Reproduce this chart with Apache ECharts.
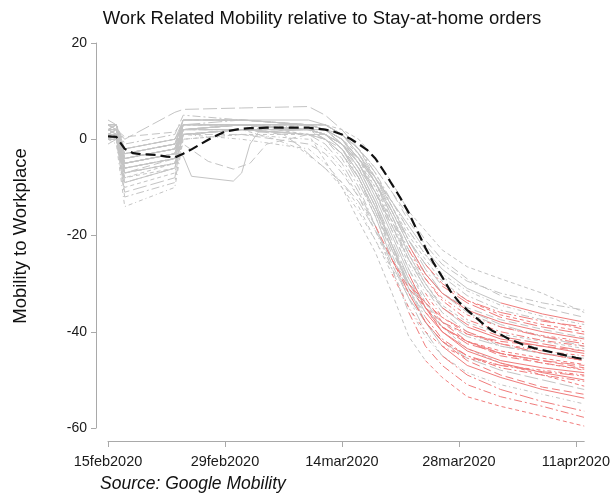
<!DOCTYPE html>
<html><head><meta charset="utf-8">
<script src="https://cdn.jsdelivr.net/npm/echarts@6/dist/echarts.min.js"></script>
<style>html,body{margin:0;padding:0;background:#fff}#c{width:613px;height:497px}</style>
</head><body><div id="c"></div>
<script>
// x positions are days since 15feb2020
const tickDays = [0, 14, 28, 42, 56];
const tickLabels = ['15feb2020', '29feb2020', '14mar2020', '28mar2020', '11apr2020'];
const knotDays = [0, 1, 2, 8, 9, 16, 24, 26, 28, 30, 32, 34, 36, 38, 40, 43, 47, 52, 57];

const s01 = [3, 2, -8, -6, 2, 3, 1, -4.5, -10, -17, -23.5, -32, -41, -46, -49.5, -53.5, -55.5, -57.5, -59.6];
const s02 = [1, 0, -12, -9, 1, 2, 2, 0, -4, -10, -18, -27, -36, -43, -47, -51, -53.5, -55.5, -57.8];
const s03 = [2, 3, -6, -4, 3, 3, 2, 1, -2, -8, -16, -25, -33, -40, -45, -49, -52, -54.5, -56.5];
const s04 = [0, -1, -14, -10, 0, 1, 0, -2, -6, -12, -19, -27, -35, -41, -45, -48.5, -51, -53, -55];
const s05 = [2, 2, -5, -3, 2, 3, 3, 2, -1, -6, -13, -22, -31, -38, -43, -47, -49.5, -52, -53.8];
const s06 = [1, 1, -7, -5, 1, 2, 1, 0, -3, -8, -15, -24, -32, -38, -42, -46, -49, -51.5, -53];
const s07 = [-1, 0, -11, -8, 2, 2, 1, -1, -5, -11, -18, -26, -33, -38, -42, -45.5, -48, -50, -52];
const s08 = [3, 2, -4, -2, 4, 4, 3, 2, 0, -4, -11, -19, -27, -34, -39, -43.5, -46.5, -49, -51.3];
const s09 = [0, 1, -9, -6, 1, 2, 2, 1, -2, -7, -14, -23, -31, -37, -41.5, -45, -47.5, -49, -50.3];
const s10 = [2, 2, -3, -1, 3, 3, 2, 0, -3, -9, -16, -25, -32, -38, -42, -45, -47, -48.3, -49.2];
const s11 = [1, 0, -6, -4, 1, 0, -2, -5, -9, -14, -21, -28, -35, -40, -43, -45.5, -47, -48, -49];
const s12 = [3, 3, -2, 0, 4, 4, 3, 2, 0, -5, -12, -20, -28, -35, -40, -43.5, -46, -47.5, -48.5];
const s13 = [1, 2, -7, -4, 2, 3, 3, 2, -1, -5, -11, -19, -27, -33, -38, -42, -45, -46.5, -47.8];
const s14 = [2, 1, -5, -3, 3, 3, 2, 1, -1, -6, -13, -21, -29, -35, -39, -42.5, -44.5, -46, -47];
const s15 = [0, 0, -10, -7, 0, 1, 1, 0, -3, -8, -15, -23, -30, -35, -39, -42, -44, -45.5, -46.8];
const s16 = [4, 3, -1, 1, 5, 4, 3, 3, 1, -3, -9, -17, -25, -31, -36, -40, -43, -44.5, -46];
const s17 = [2, 3, -4, -2, 3, 3, 2, 1, -2, -7, -14, -22, -29, -34, -38, -41, -43, -44.5, -45.5];
const s18 = [1, 1, -6, -4, 2, 2, 3, 2, 0, -4, -10, -18, -26, -32, -37, -40.5, -42.5, -44, -45];
const s19 = [3, 2, -3, -1, 4, 4, 4, 3, 1, -3, -9, -16, -24, -30, -35, -39, -41.5, -43, -44.5];
const s20 = [1, 0, -4, -2, 1, 1, -1, -3, -7, -12, -18, -25, -31, -35, -38, -40.5, -42, -43, -44];
const s21 = [2, 2, -5, -3, 2, 3, 2, 2, -1, -5, -11, -18, -25, -31, -35, -38.5, -41, -42.5, -44];
const s22 = [0, 1, -8, -5, 1, 2, 2, 1, -1, -5, -11, -18, -25, -30, -34.5, -38, -40.5, -42, -43.5];
const s23 = [2, 2, -2, 0, 3, 3, 3, 2, 0, -4, -9, -16, -23, -29, -33.5, -37.5, -40, -41.8, -43];
const s24 = [3, 3, -5, -3, 3, 4, 3, 3, 1, -2, -7, -14, -21, -27, -32, -36, -39, -41, -42.5];
const s25 = [1, 2, -4, -2, 2, 2, 2, 1, -1, -5, -10, -17, -24, -29, -33, -36.5, -39, -40.8, -42];
const s26 = [2, 1, -6, -4, 2, 3, 2, 2, 0, -4, -9, -15, -22, -28, -32, -35.5, -38, -40, -41.5];
const s27 = [0, 0, -3, -1, 2, 2, 1, 0, -2, -6, -11, -17, -23, -28, -32, -35, -37.5, -39.5, -41.2];
const s28 = [3, 3, -4, -2, 4, 4, 3, 3, 1, -3, -8, -14, -21, -26, -30.5, -34, -37, -39, -40.5];
const s29 = [1, 1, -7, -5, 1, 2, 2, 2, 0, -3, -8, -14, -20, -25, -29.5, -33.5, -36.5, -38.5, -40];
const s30 = [2, 3, -2, 0, 3, 3, 3, 3, 1, -2, -7, -13, -19, -24, -28.5, -32.5, -35.5, -37.5, -39.5];
const s31 = [0, 1, -5, -3, 2, 2, 2, 1, -1, -4, -9, -15, -21, -26, -30, -33.5, -36, -37.8, -39];
const s32 = [2, 2, -3, -1, 3, 3, 2, 1, -1, -4, -8, -13, -19, -24, -28, -31.5, -34.5, -36.8, -38.5];
const s33 = [1, 0, -9, -6, 1, 2, 1, 1, -1, -4, -8, -13, -18, -23, -27, -31, -34, -36.3, -38];
const s34 = [3, 2, 0.5, 1.5, 4, 4, 3, 3, 1, -2, -6, -11, -16, -21, -25, -29, -32.5, -35, -37];
const s35 = [1, 2, 0, 5.6, 6.2, 6.5, 6.8, 5, 2, -2, -8, -15, -22, -28, -32, -35.5, -38.5, -41, -43];
const s36 = [2, 1, -3, -1, 3, 3, 3, 3, 2, 0, -4, -9, -15, -19, -23, -26.5, -29, -32, -36];
const s37 = [1, 2, -4, -2, 2, 3, 3, 2, 1, -2, -6, -11, -17, -22, -26, -29.5, -32, -34, -35.5];
// day of stay-at-home order (null = none)
const orderDay = [38, 36, 40, null, 40, 36, null, 47, 38, 34, 34, 36, 38, 40, 36, 52, null, 38, 43, 32,
                  40, null, 36, 47, 38, 36, null, 40, 43, 52, 38, null, 47, null, null, null, null];

// states with their own sampling days
const laDays = [0, 1, 2, 8, 9, 10, 15, 16, 17, 18, 24, 26, 28, 30, 32, 34, 36, 38, 40, 43, 47, 52, 57];
const laVals = [1, 1, -5, -3, -3.5, -7.7, -8.7, -7, -1, 1.5, 2, 1, -2, -7, -14, -22, -30, -36, -40, -44, -46.5, -48.5, -50];
const dipDays = [0, 1, 2, 8, 9, 12, 15, 17, 19, 24, 26, 28, 30, 32, 34, 36, 38, 40, 43, 47, 52, 57];
const dipVals = [0, 0, -6, -4, -1, -4.6, -6.2, -5, -1, 1, 0, -3, -8, -15, -23, -30, -35, -39, -42, -44.5, -46, -47.5];
const waDays = [0, 1, 2, 8, 9, 16, 20, 23, 26, 28, 30, 32, 34, 36, 38, 40, 43, 47, 52, 57];
const waVals = [2, 2, -4, -2, 2, 2, 0, -2, -6, -10, -15, -21, -27, -32, -36, -39, -42, -44.5, -46.5, -48];
const edDays = [0, 1, 2, 8, 9, 16, 21, 23, 25, 28, 30, 32, 34, 36, 38, 40, 43, 47, 52, 57];
const edVals = [1, 0, -7, -5, 1, 2, 1, -1.5, -4.6, -9, -13, -19, -25, -30, -34, -37, -40, -42.5, -44.5, -46];
const specialOrder = [38, 40, 38, 36];

// mean line, one value per day from 15feb2020
const meanValues = [0.6, 0.5, -2.0, -2.9, -3.1, -3.2, -3.3, -3.6, -3.8, -3.0, -2.1, -1.1, -0.1, 0.8, 1.6, 1.9,
  2.2, 2.3, 2.3, 2.4, 2.4, 2.4, 2.4, 2.4, 2.4, 2.2, 2.0, 1.6, 1.0, 0.1, -1.0, -2.2, -4.0, -6.6, -9.4, -12.2,
  -15.3, -19.0, -22.6, -25.8, -28.6, -31.6, -33.8, -35.5, -37.0, -38.5, -39.8, -40.6, -41.5, -42.2, -42.9,
  -43.4, -43.8, -44.2, -44.6, -45.0, -45.4, -45.7];

const FONT = 'Liberation Sans, Arial, Helvetica, sans-serif';
const GRAY = '#c4c4c4', RED = '#f07c7c';
const patterns = ['solid', [8, 4], [14, 4], [4, 3], [8, 3, 2, 3], [14, 3, 2, 3], [4, 3, 1, 3]];

const lines = [];
[s01,s02,s03,s04,s05,s06,s07,s08,s09,s10,s11,s12,s13,s14,s15,s16,s17,s18,s19,s20,
 s21,s22,s23,s24,s25,s26,s27,s28,s29,s30,s31,s32,s33,s34,s35,s36,s37].forEach((v, i) => {
  lines.push({days: knotDays, vals: v, order: orderDay[i], dash: patterns[(i + 3) % patterns.length]});
});
lines.push({days: laDays, vals: laVals, order: specialOrder[0], dash: 'solid'});
lines.push({days: dipDays, vals: dipVals, order: specialOrder[1], dash: [8, 4]});
lines.push({days: waDays, vals: waVals, order: specialOrder[2], dash: [4, 3, 1, 3]});
lines.push({days: edDays, vals: edVals, order: specialOrder[3], dash: [14, 4]});

function pts(days, vals, from, to) {
  const out = [];
  days.forEach((d, i) => { if (d >= from && d <= to) out.push([d, vals[i]]); });
  return out;
}
const base = {type: 'line', showSymbol: false, silent: true, animation: false};
const graySeries = [], redSeries = [];
lines.forEach(l => {
  const end = l.order == null ? 999 : l.order;
  graySeries.push(Object.assign({}, base, {data: pts(l.days, l.vals, 0, end),
    lineStyle: {color: GRAY, width: 1, type: l.dash}}));
  if (l.order != null) {
    redSeries.push(Object.assign({}, base, {data: pts(l.days, l.vals, l.order, 999),
      lineStyle: {color: RED, width: 1, type: l.dash}}));
  }
});
const meanSeries = Object.assign({}, base, {data: meanValues.map((v, d) => [d, v]), z: 5,
  lineStyle: {color: '#111', width: 2.2, type: [10, 5]}});

const chart = echarts.init(document.getElementById('c'), null, {renderer: 'canvas'});
chart.setOption({
  backgroundColor: '#fff',
  animation: false,
  grid: {left: 108, right: 28, top: 43, bottom: 69, containLabel: false},
  xAxis: {
    type: 'value', min: 0, max: 57, interval: 14, offset: 13,
    axisLine: {show: true, onZero: false, lineStyle: {color: '#a9a9a9', width: 1}},
    axisTick: {show: true, length: 6, lineStyle: {color: '#a9a9a9'}, customValues: tickDays},
    axisLabel: {customValues: tickDays, fontSize: 14.5, color: '#1a1a1a', fontFamily: FONT, margin: 13,
      formatter: v => { const k = tickDays.indexOf(v); return k >= 0 ? tickLabels[k] : ''; }},
    splitLine: {show: false}
  },
  yAxis: {
    type: 'value', min: -60, max: 20, interval: 20, offset: 12,
    axisLine: {show: true, onZero: false, lineStyle: {color: '#a9a9a9', width: 1}},
    axisTick: {show: true, length: 5, lineStyle: {color: '#a9a9a9'}},
    axisLabel: {fontSize: 14, color: '#1a1a1a', fontFamily: FONT, margin: 9},
    splitLine: {show: false}
  },
  graphic: [
    {type: 'text', x: 322, y: 19, style: {text: 'Work Related Mobility relative to Stay-at-home orders',
      fontSize: 18.5, fontFamily: FONT, fill: '#111', align: 'center', verticalAlign: 'middle'}},
    {type: 'text', x: 21, y: 236, rotation: Math.PI / 2, style: {text: 'Mobility to Workplace',
      fontSize: 18.5, fontFamily: FONT, fill: '#111', align: 'center', verticalAlign: 'middle'}},
    {type: 'text', x: 100, y: 484, style: {text: 'Source: Google Mobility', fontSize: 17.5,
      fontStyle: 'italic', fontFamily: FONT, fill: '#111', align: 'left', verticalAlign: 'middle'}}
  ],
  series: graySeries.concat(redSeries, [meanSeries])
});
</script></body></html>
